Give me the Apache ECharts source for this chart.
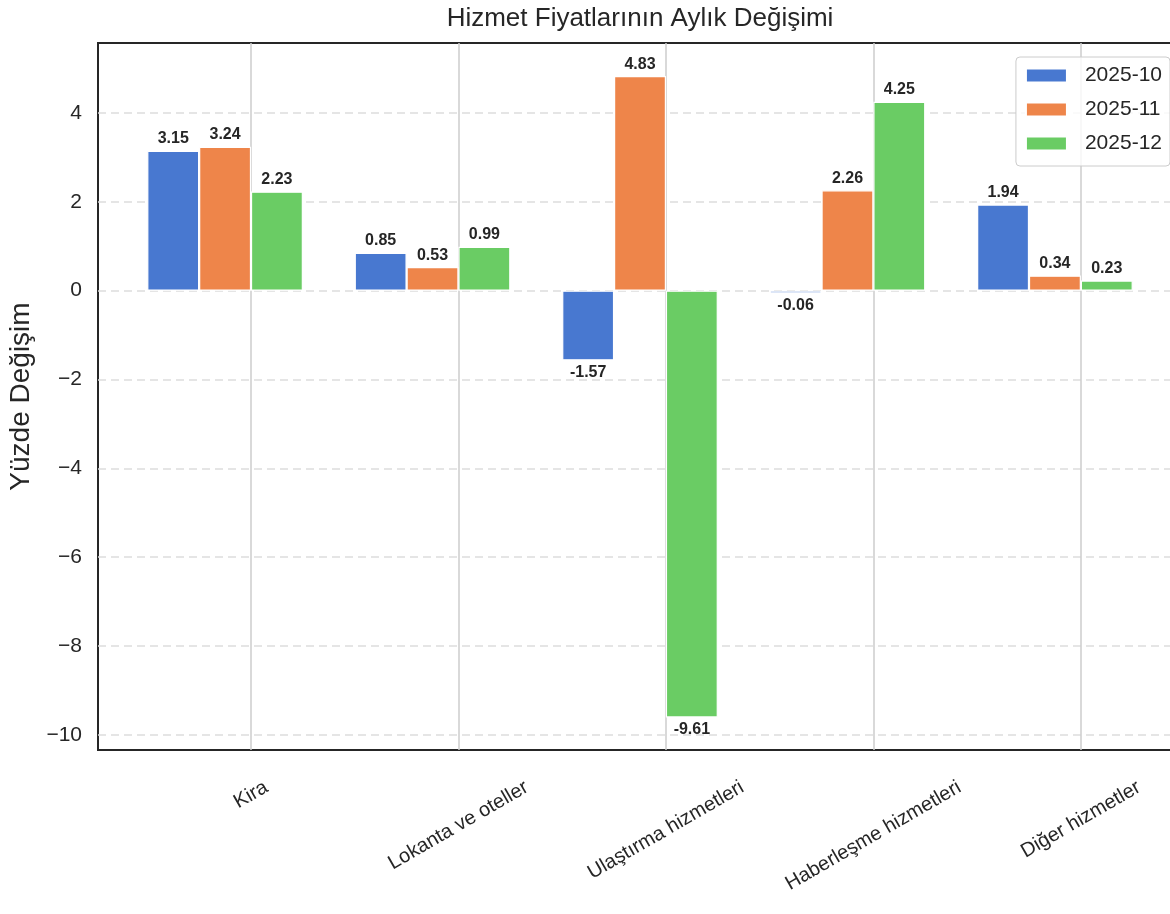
<!DOCTYPE html>
<html><head><meta charset="utf-8">
<script src="https://cdn.jsdelivr.net/npm/echarts@6/dist/echarts.min.js"></script>
<style>html,body{margin:0;padding:0;background:#fff}#c{width:1170px;height:914px}</style>
</head><body><div id="c"></div>
<script>
const categories = ['Kira', 'Lokanta ve oteller', 'Ulaştırma hizmetleri', 'Haberleşme hizmetleri', 'Diğer hizmetler'];
const seriesNames = ['2025-10', '2025-11', '2025-12'];
const values_2025_10 = [3.15, 0.85, -1.57, -0.06, 1.94];
const values_2025_11 = [3.24, 0.53, 4.83, 2.26, 0.34];
const values_2025_12 = [2.23, 0.99, -9.61, 4.25, 0.23];
const yTickValues = [-10, -8, -6, -4, -2, 0, 2, 4];
const xTickValues = [0, 1, 2, 3, 4];

const FONT = '"Liberation Sans", Arial, sans-serif';
const TXT = '#262626';
const colors = ['#4878d0', '#ee854a', '#6acc64'];
const seriesValues = [values_2025_10, values_2025_11, values_2025_12];
const barWidthUnits = 0.25;
const offsets = [-0.375, -0.125, 0.125];

// measure label widths so rotated labels are centred on their tick like the reference
const labelSize = 20;
const cv = document.createElement('canvas').getContext('2d');
cv.font = labelSize + 'px "Liberation Sans"';
const rich = {};
categories.forEach((c, i) => {
  const w = cv.measureText(c).width;
  rich['c' + i] = {
    fontSize: labelSize, color: TXT, fontFamily: FONT,
    padding: [0.433 * w, 0.25 * w, 0, 0]
  };
});

const chart = echarts.init(document.getElementById('c'), null, {renderer: 'canvas'});
const xMin = -0.7375, xMax = 4.4875;
const series = seriesNames.map((name, s) => ({
  type: 'bar',
  name: name,
  data: seriesValues[s].map((v, i) => [i + offsets[s], v]),
  barWidth: 52,
  barGap: '-100%',
  itemStyle: {color: colors[s], borderColor: '#ffffff', borderWidth: 1.2},
  label: {
    show: true, position: 'outside', distance: 4,
    formatter: p => p.value[1].toFixed(2),
    fontSize: 16, fontWeight: 'bold', color: TXT, fontFamily: FONT
  }
}));

chart.setOption({
  animation: false,
  backgroundColor: '#ffffff',
  textStyle: {fontFamily: FONT},
  color: colors,
  title: {
    text: 'Hizmet Fiyatlarının Aylık Değişimi',
    left: 640, textAlign: 'center', top: 6, padding: 0,
    textStyle: {fontSize: 26, fontWeight: 'normal', color: TXT, fontFamily: FONT}
  },
  legend: {
    data: seriesNames,
    orient: 'vertical',
    right: 0, top: 57,
    itemWidth: 41, itemHeight: 14, itemGap: 13,
    padding: [8, 8, 12, 9],
    borderColor: '#cccccc', borderWidth: 1, borderRadius: 4,
    backgroundColor: 'rgba(255,255,255,0.8)',
    icon: 'rect',
    formatter: '{a|{name}}',
    textStyle: {
      fontSize: 21, color: TXT, fontFamily: FONT,
      rich: {a: {fontSize: 21, color: TXT, fontFamily: FONT, padding: [0, 0, 0, 13], lineHeight: 22}}
    }
  },
  grid: {
    left: 98, top: 43, right: -12, bottom: 164,
    show: true, borderColor: '#262626', borderWidth: 2, backgroundColor: 'transparent',
    containLabel: false, outerBoundsMode: 'none'
  },
  xAxis: {
    type: 'value', min: xMin, max: xMax,
    axisLine: {show: false},
    axisTick: {show: false, customValues: xTickValues},
    axisLabel: {
      customValues: xTickValues,
      rotate: 30, align: 'center', verticalAlign: 'middle', margin: 36,
      formatter: v => '{c' + Math.round(v) + '|' + categories[Math.round(v)] + '}',
      rich: rich
    },
    splitLine: {show: true, lineStyle: {color: '#cccccc', width: 1.5, type: 'solid'}}
  },
  yAxis: {
    type: 'value', min: -10.34, max: 5.575,
    name: 'Yüzde Değişim', nameLocation: 'middle', nameGap: 58,
    nameTextStyle: {fontSize: 28, color: TXT, fontFamily: FONT},
    axisLine: {show: false},
    axisTick: {show: false, customValues: yTickValues},
    axisLabel: {
      customValues: yTickValues, fontSize: 21, color: TXT, margin: 16, fontFamily: FONT,
      formatter: v => (v < 0 ? '\u2212' + Math.abs(v) : String(v))
    },
    splitLine: {show: true, lineStyle: {color: '#dddddd', width: 1.5, type: [8, 5]}}
  },
  series: series
});
</script>
</body></html>
